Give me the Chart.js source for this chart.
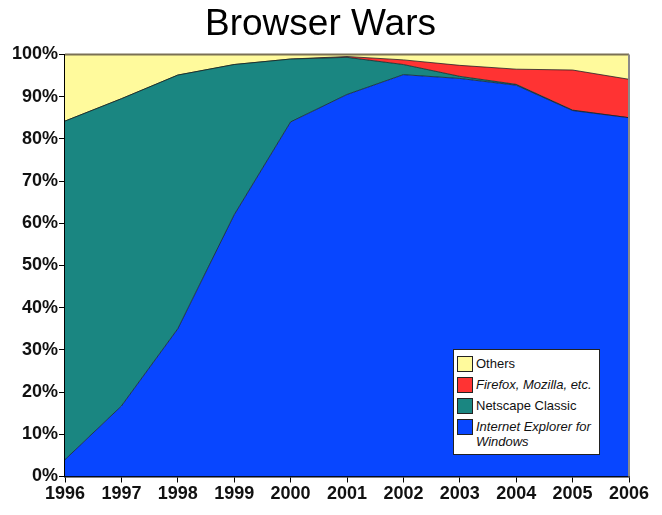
<!DOCTYPE html>
<html>
<head>
<meta charset="utf-8">
<script src="https://cdn.jsdelivr.net/npm/chart.js@4/dist/chart.umd.min.js"></script>
<style>
  html, body { margin: 0; padding: 0; background: #fff; }
  #wrap { position: relative; width: 662px; height: 515px; }
  #legend {
    position: absolute; left: 453px; top: 349px; width: 147px; height: 106px;
    box-sizing: border-box; background: #fff; border: 1px solid #222;
    font-family: "Liberation Sans", Arial, sans-serif; font-size: 13px; color: #111;
    padding: 6px 0 0 3px;
  }
  .item { display: flex; align-items: flex-start; margin-bottom: 5px; line-height: 15px; }
  .sw { width: 14px; height: 14px; border: 1px solid #222; margin-right: 3px; flex: none; }
</style>
</head>
<body>
<div id="wrap">
  <canvas id="chart" width="662" height="515"></canvas>
  <div id="legend"></div>
</div>
<script>
const years = ['1996', '1997', '1998', '1999', '2000', '2001', '2002', '2003', '2004', '2005', '2006'];
const ieWindows = [4, 16.7, 35, 62, 84, 90.5, 95.2, 94.3, 92.7, 86.7, 85];
const netscape = [80.2, 72.8, 60.1, 35.6, 14.9, 8.8, 2.4, 0.5, 0.2, 0.1, 0];
const firefox = [0, 0, 0, 0, 0, 0.2, 1.1, 2.6, 3.6, 9.5, 9.1];
const others = [15.8, 10.5, 4.9, 2.4, 1.1, 0.5, 1.3, 2.6, 3.5, 3.7, 5.9];

const font = "'Liberation Sans', Arial, sans-serif";

// frame on top and right of the plot
const frame = {
    id: 'frame',
    afterDatasetsDraw(chart) {
        const a = chart.chartArea, c = chart.ctx;
        c.save();
        c.lineWidth = 2;
        c.strokeStyle = '#7a7055';
        c.beginPath();
        c.moveTo(a.left, a.top);
        c.lineTo(a.right, a.top);
        c.stroke();
        c.strokeStyle = '#8a8a8a';
        c.beginPath();
        c.moveTo(a.right, a.top);
        c.lineTo(a.right, a.bottom);
        c.stroke();
        c.restore();
    }
};

const chart = new Chart(document.getElementById('chart'), {
    type: 'line',
    data: {
        labels: years,
        datasets: [
            { label: 'Internet Explorer for Windows', data: ieWindows, backgroundColor: '#0846ff', fill: 'origin' },
            { label: 'Netscape Classic', data: netscape, backgroundColor: '#1a8681', fill: '-1' },
            { label: 'Firefox, Mozilla, etc.', data: firefox, backgroundColor: '#ff3333', fill: '-1' },
            { label: 'Others', data: others, backgroundColor: '#fffa9c', fill: '-1' }
        ].map(d => Object.assign(d, { borderColor: 'rgba(20,30,30,0.75)', borderWidth: 1, pointRadius: 0, tension: 0 }))
    },
    options: {
        responsive: false,
        animation: false,
        layout: { padding: { left: 12, right: 33, top: 0, bottom: 0 } },
        plugins: {
            legend: { display: false },
            tooltip: { enabled: false },
            title: {
                display: true,
                text: 'Browser Wars',
                color: '#000',
                font: { family: font, size: 37, weight: 'normal' },
                padding: { top: 3, bottom: 7 }
            }
        },
        scales: {
            x: {
                offset: false,
                grid: { drawOnChartArea: false, tickLength: 6, color: '#000', offset: false },
                border: { color: '#000', width: 1.5 },
                ticks: { color: '#111', font: { family: font, size: 18, weight: 'bold' }, padding: 1, maxRotation: 0 },
                afterFit(s) { s.height = 38.5; }
            },
            y: {
                stacked: true,
                min: 0,
                max: 100,
                grid: { drawOnChartArea: false, tickLength: 6, color: '#000' },
                border: { color: '#000', width: 1.5 },
                ticks: { stepSize: 10, color: '#111', font: { family: font, size: 18, weight: 'bold' }, padding: 1, callback: v => v + '%' },
                afterFit(s) { s.width = 53; }
            }
        }
    },
    plugins: [frame]
});

// legend box inside the plot, built from the datasets
const italic = { 'Firefox, Mozilla, etc.': true, 'Internet Explorer for Windows': true };
const legend = document.getElementById('legend');
chart.data.datasets.slice().reverse().forEach(ds => {
    const row = document.createElement('div');
    row.className = 'item';
    const sw = document.createElement('div');
    sw.className = 'sw';
    sw.style.background = ds.backgroundColor;
    const txt = document.createElement('div');
    txt.textContent = ds.label;
    if (italic[ds.label]) txt.style.fontStyle = 'italic';
    row.appendChild(sw);
    row.appendChild(txt);
    legend.appendChild(row);
});
</script>
</body>
</html>
